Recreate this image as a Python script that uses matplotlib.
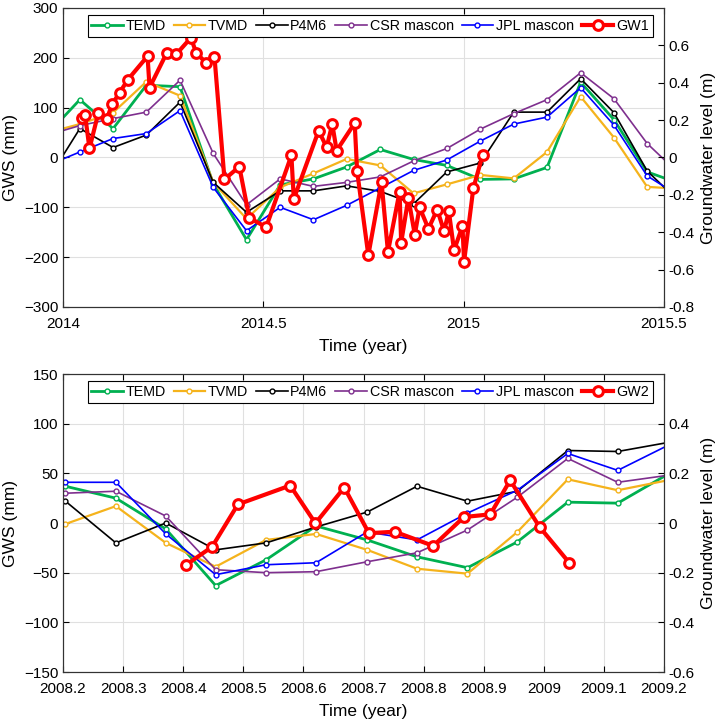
import numpy as np
import matplotlib
matplotlib.use("Agg")
import matplotlib.pyplot as plt

plt.rcParams['font.family'] = ['Liberation Sans', 'DejaVu Sans']

# ---- panel 1 (2014-2015.5), monthly GRACE series in mm ----
t_month1 = [2013.958, 2014.042, 2014.125, 2014.208, 2014.292, 2014.375, 2014.458,
            2014.542, 2014.625, 2014.708, 2014.792, 2014.875, 2014.958, 2015.042,
            2015.125, 2015.208, 2015.292, 2015.375, 2015.458, 2015.542]
temd1 = [44, 116, 58, 145, 142, -53, -165, -55, -43, -19, 16, -4, -16, -44,
         -43, -20, 151, 76, -29, -53]
tvmd1 = [49, 67, 90, 152, 124, -50, -123, -60, -32, -3, -16, -72, -54, -35,
         -42, 11, 122, 40, -59, -63]
p4m61 = [-50, 58, 20, 45, 111, -50, -110, -67, -67, -57, -68, -93, -29, -11,
         91, 91, 158, 90, -27, -92]
csr1 = [44, 64, 78, 91, 155, 8, -95, -43, -58, -50, -39, -7, 18, 57,
        88, 116, 170, 118, 28, -36]
jpl1 = [-17, 11, 38, 48, 94, -60, -147, -100, -125, -96, -61, -26, -5, 33,
        67, 81, 140, 65, -37, -79]

# groundwater level GW1 (m)
gw1_t = [2014.047, 2014.055, 2014.066, 2014.088, 2014.109, 2014.123, 2014.141,
         2014.162, 2014.211, 2014.216, 2014.259, 2014.282, 2014.319, 2014.333,
         2014.357, 2014.378, 2014.403, 2014.440, 2014.465, 2014.507, 2014.570,
         2014.576, 2014.638, 2014.658, 2014.672, 2014.683, 2014.728, 2014.734,
         2014.762, 2014.795, 2014.811, 2014.840, 2014.844, 2014.862, 2014.878,
         2014.890, 2014.912, 2014.934, 2014.951, 2014.963, 2014.976, 2014.997,
         2015.001, 2015.024, 2015.047]
gw1 = [0.21, 0.228, 0.048, 0.237, 0.205, 0.286, 0.346, 0.417, 0.542, 0.374,
       0.56, 0.551, 0.64, 0.558, 0.507, 0.54, -0.117, -0.049, -0.323, -0.373,
       0.011, -0.222, 0.143, 0.055, 0.178, 0.037, 0.184, -0.072, -0.523, -0.131,
       -0.505, -0.184, -0.456, -0.217, -0.413, -0.267, -0.381, -0.279, -0.394,
       -0.288, -0.496, -0.367, -0.558, -0.166, 0.011]

# ---- panel 2 (2008.2-2009.2) ----
t_month2 = [2008.204, 2008.288, 2008.371, 2008.454, 2008.538, 2008.621, 2008.706,
            2008.789, 2008.873, 2008.956, 2009.040, 2009.123, 2009.206]
temd2 = [37, 25, -6, -63, -37, -3, -17, -34, -45, -19, 21, 20, 49]
tvmd2 = [-1, 17, -20, -44, -17, -11, -27, -46, -51, -9, 44, 33, 43]
p4m62 = [22, -20, 0, -27, -20, -4, 11, 37, 22, 32, 73, 72, 81]
csr2 = [30, 32, 7, -47, -50, -49, -39, -30, -7, 26, 65, 41, 48]
jpl2 = [41, 41, -11, -52, -42, -40, -9, -17, 10, 33, 70, 53, 78]

gw2_t = [2008.405, 2008.448, 2008.491, 2008.578, 2008.620, 2008.668, 2008.709,
         2008.752, 2008.816, 2008.867, 2008.911, 2008.944, 2008.993, 2009.042]
gw2 = [-0.168, -0.096, 0.075, 0.151, -0.001, 0.143, -0.041, -0.035, -0.092,
       0.024, 0.035, 0.172, -0.016, -0.159]

names = ['TEMD', 'TVMD', 'P4M6', 'CSR mascon', 'JPL mascon']
colors = ['#00B050', '#F5B31C', '#000000', '#7E2F8E', '#0000FF']
widths = [2.0, 1.6, 1.2, 1.2, 1.2]


def panel(ax, t, series, gw_t, gw, gw_name, ylim, y2lim, y2ticks, xlim, xticks, xlabels):
    handles = []
    for s, name, c, lw in zip(series, names, colors, widths):
        h, = ax.plot(t, s, '-o', color=c, lw=lw, ms=3.5, mfc='white', mew=1.0,
                     label=name)
        handles.append(h)
    ax.set_xlim(xlim)
    ax.set_ylim(ylim)
    ax.set_xticks(xticks)
    ax.set_xticklabels(xlabels)
    ax.grid(True, color='#e0e0e0', lw=0.8)
    ax.set_axisbelow(True)
    ax.set_ylabel('GWS (mm)', fontsize=12.5)
    ax.set_xlabel('Time (year)', fontsize=12.5, labelpad=6)
    ax.tick_params(direction='in', labelsize=11, top=True, length=4)
    ax.tick_params(axis='x', pad=7)

    ax2 = ax.twinx()
    h, = ax2.plot(gw_t, gw, '-o', color='#FF0000', lw=3, ms=7, mfc='white',
                  mew=2.2, label=gw_name)
    handles.append(h)
    ax2.set_ylim(y2lim)
    ax2.set_yticks(y2ticks)
    ax2.set_yticklabels(['0' if abs(v) < 1e-9 else ('%g' % v) for v in y2ticks])
    ax2.set_ylabel('Groundwater level (m)', fontsize=12.5)
    ax2.tick_params(direction='in', labelsize=11, length=4)
    for sp in list(ax.spines.values()) + list(ax2.spines.values()):
        sp.set_color('#333333')

    leg = ax2.legend(handles=handles, loc='upper center', ncol=6,
                     bbox_to_anchor=(0.511, 0.975), fontsize=10.3, frameon=True,
                     fancybox=False, edgecolor='black', framealpha=1,
                     handlelength=2.2, handletextpad=0.2, columnspacing=0.55,
                     borderpad=0.25, borderaxespad=0)
    leg.get_frame().set_linewidth(0.8)
    return ax2


fig = plt.figure(figsize=(7.26, 7.24), dpi=100)
ax_top = fig.add_axes([0.0868, 0.576, 0.8278, 0.413])
ax_bot = fig.add_axes([0.0868, 0.0718, 0.8278, 0.4116])

panel(ax_top, t_month1, [temd1, tvmd1, p4m61, csr1, jpl1], gw1_t, gw1, 'GW1',
      (-300, 300), (-0.8, 0.8), [-0.8, -0.6, -0.4, -0.2, 0, 0.2, 0.4, 0.6],
      (2014, 2015.5), [2014, 2014.5, 2015, 2015.5],
      ['2014', '2014.5', '2015', '2015.5'])

panel(ax_bot, t_month2, [temd2, tvmd2, p4m62, csr2, jpl2], gw2_t, gw2, 'GW2',
      (-150, 150), (-0.6, 0.6), [-0.6, -0.4, -0.2, 0, 0.2, 0.4],
      (2008.2, 2009.2), [2008.2, 2008.3, 2008.4, 2008.5, 2008.6, 2008.7, 2008.8,
                         2008.9, 2009.0, 2009.1, 2009.2],
      ['2008.2', '2008.3', '2008.4', '2008.5', '2008.6', '2008.7', '2008.8',
       '2008.9', '2009', '2009.1', '2009.2'])

fig.savefig('out.png', dpi=100)
